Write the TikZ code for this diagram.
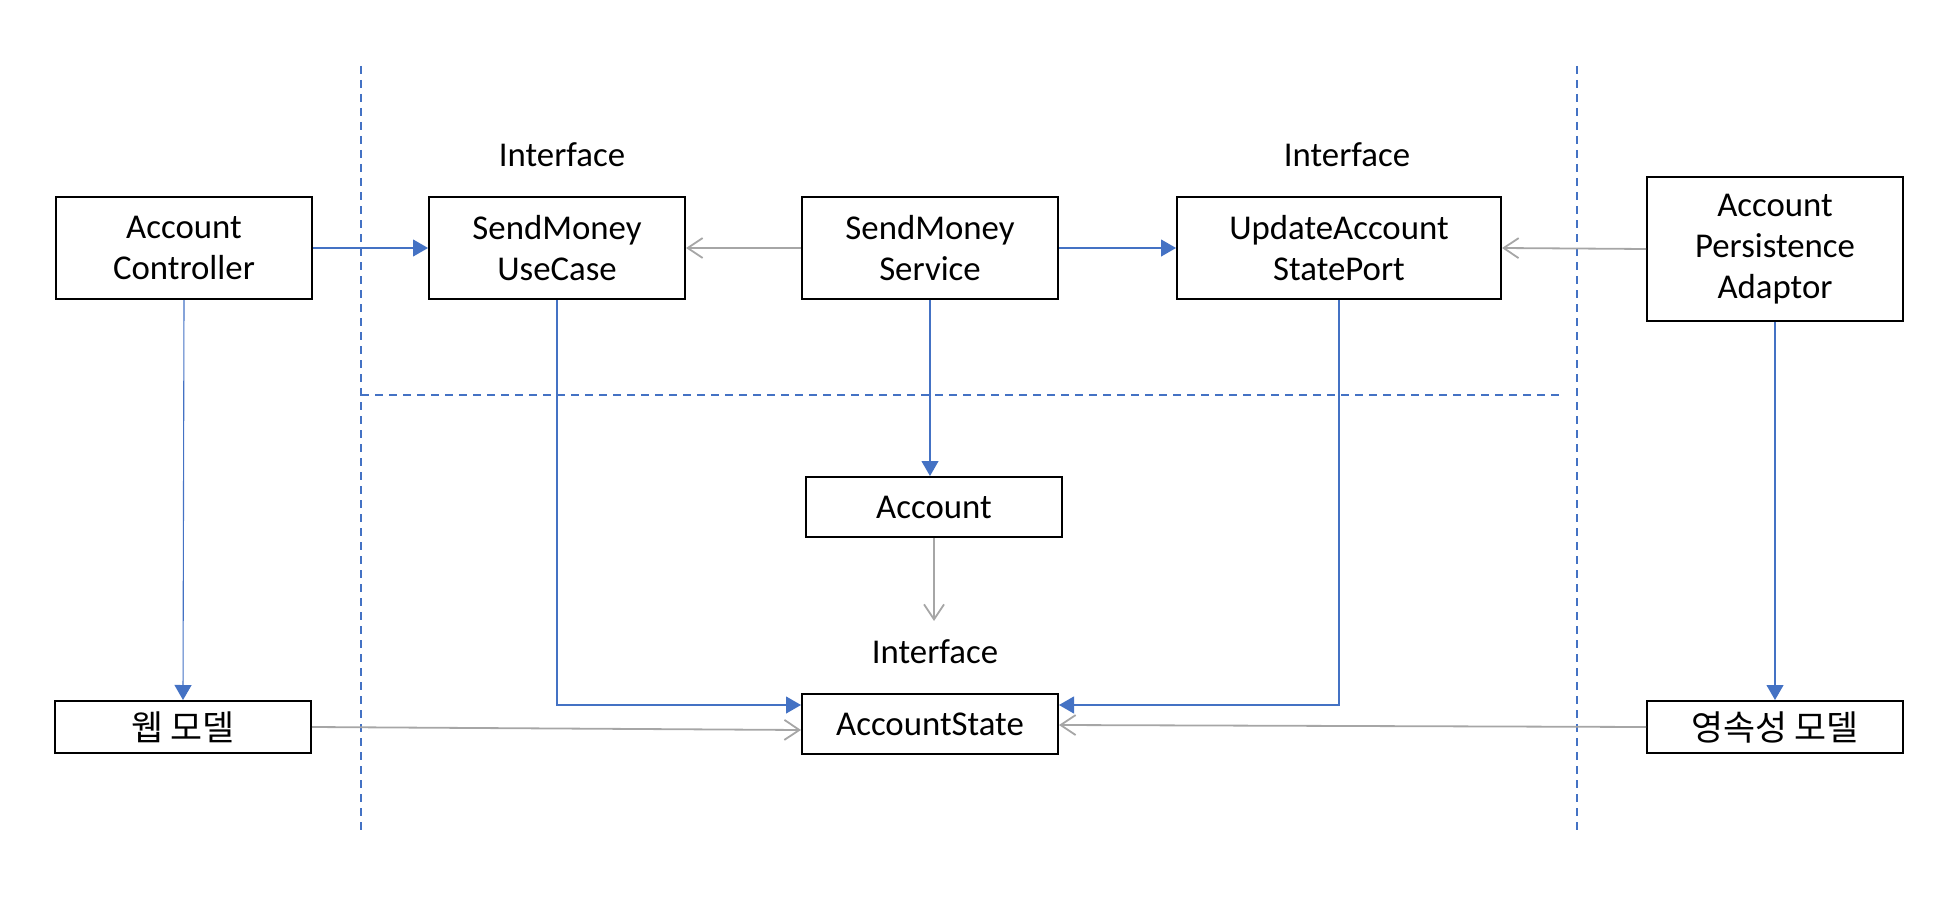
\documentclass[tikz,border=0pt]{standalone}
\usepackage{fontspec}
\setmainfont{Carlito}
\newfontfamily\kr{Noto Sans CJK KR}
\usetikzlibrary{arrows.meta,calc}
\definecolor{cBlue}{HTML}{4472C4}
\definecolor{cGray}{HTML}{A6A6A6}

\begin{document}
\begin{tikzpicture}[
    x=0.5pt, y=-0.5pt,
    font=\fontsize{17.4}{20.5}\selectfont,
    blk/.style={rectangle, draw=black, line width=1pt, fill=white,
      minimum width=128pt, minimum height=51pt, align=center, inner sep=2pt},
    call/.style={draw=cBlue, line width=0.55pt, -{Triangle[length=7.5pt,width=8.5pt]}},
    dep/.style={draw=cGray, line width=0.9pt, -{Straight Barb[length=7.5pt,width=10pt]}},
    sep/.style={draw=cBlue, line width=0.8pt, dash pattern=on 4pt off 3pt},
    lbl/.style={inner sep=1pt}]

    \useasboundingbox (0,0) rectangle (1960,904);

    \draw[sep] (361,66) -- (361,835);
    \draw[sep] (1577,66) -- (1577,835);
    \draw[sep] (361,395) -- (1560,395);

    \node[blk] (ctrl)    at (184,248)  {Account\\Controller};
    \node[blk] (usecase) at (557,248)  {SendMoney\\UseCase};
    \node[blk] (service) at (930,248)  {SendMoney\\Service};
    \node[blk, minimum width=162pt] (port) at (1339,248) {UpdateAccount\\StatePort};
    \node[blk, minimum height=72pt] (adaptor) at (1775,249) {Account\\Persistence\\Adaptor};
    \node[blk, minimum height=30pt] (account) at (934,507) {Account};
    \node[blk, minimum height=30pt] (state)   at (930,724) {AccountState};
    \node[blk, minimum height=26pt] (web)     at (183,727) {\kr 웹 모델};
    \node[blk, minimum height=26pt] (persist) at (1775,727) {\kr 영속성 모델};

    \node[lbl] (iface1) at (562,155)  {Interface};
    \node[lbl] (iface2) at (1347,155) {Interface};
    \node[lbl] (iface3) at (935,652)  {Interface};
    \coordinate (acctEnd) at (934,621);

    \draw[call] (ctrl) -- (usecase);
    \draw[dep]  (service) -- (usecase);
    \draw[call] (service) -- (port);
    \draw[dep]  (adaptor.west) -- (port.east);
    \draw[call] (ctrl.south) -- (web.north);
    \draw[call] (service.south) -- (service.south |- account.north);
    \draw[dep]  (account.south) -- (acctEnd);
    \draw[call] (adaptor.south) -- (persist.north);
    \draw[call] (usecase.south) |- ($(state.north west)+(0,12)$);
    \draw[call] (port.south) |- ($(state.north east)+(0,12)$);
    \draw[dep]  (web.east) -- ($(state.west)+(0,6)$);
    \draw[dep]  (persist.west) -- ($(state.east)+(0,1)$);
\end{tikzpicture}
\end{document}
